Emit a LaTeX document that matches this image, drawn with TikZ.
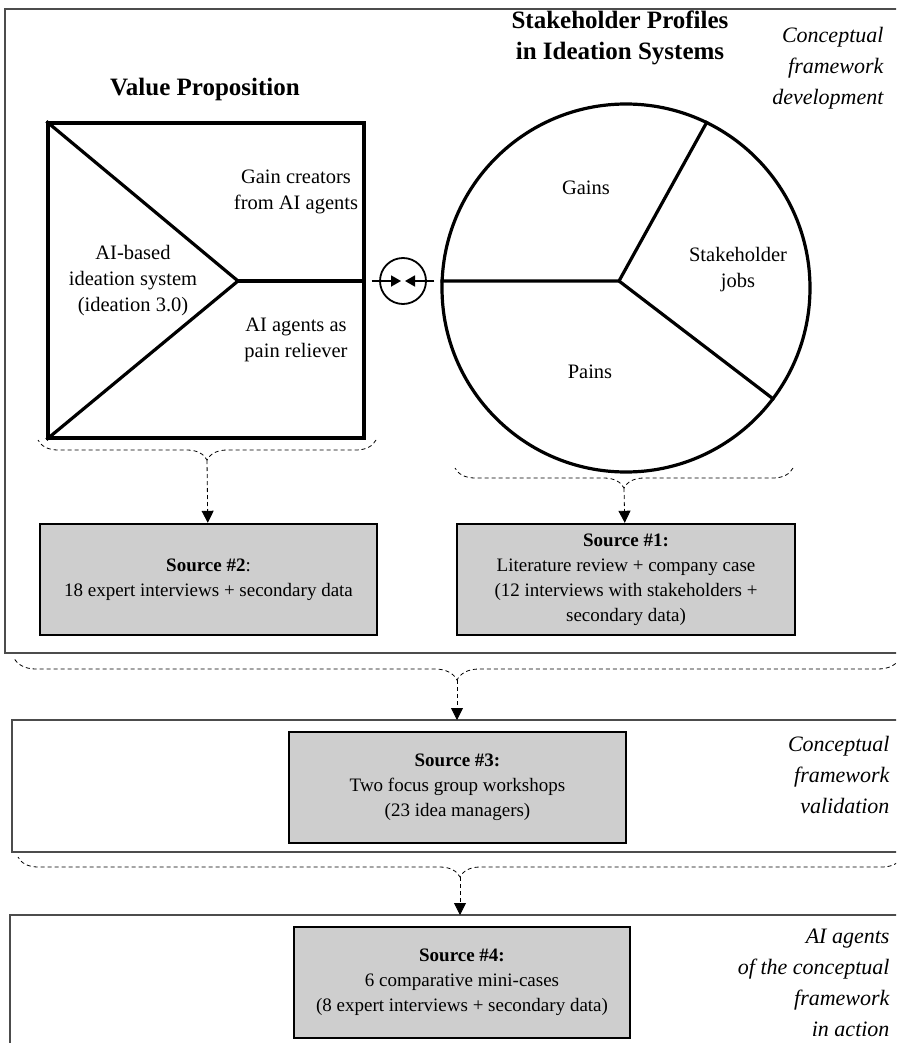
\documentclass[tikz,border=0pt]{standalone}
\usepackage{fontspec}
\setmainfont{Liberation Serif}
\usetikzlibrary{arrows.meta,positioning,calc,decorations.pathreplacing}
\definecolor{srcgray}{RGB}{206,206,206}

\begin{document}
\begin{tikzpicture}[x=1pt, y=-1pt,
    frm/.style={draw=black!70, line width=1.3pt},
    heavy/.style={draw, line width=3.2pt},
    srcbox/.style={draw, line width=2.4pt, fill=srcgray, minimum width=337pt,
                   minimum height=111pt, align=center, inner sep=0pt,
                   font=\fontsize{19}{25}\selectfont},
    lbl/.style={align=center, font=\fontsize{20.5}{26}\selectfont},
    ttl/.style={align=center, font=\bfseries\fontsize{25}{31}\selectfont},
    side/.style={align=right, anchor=east, font=\itshape\fontsize{22}{31}\selectfont},
    dbrace/.style={dash pattern=on 4pt off 3pt, line width=0.8pt, decorate,
                   decoration={brace, amplitude=20pt}},
    darrow/.style={dash pattern=on 4pt off 3pt, line width=0.8pt,
                   -{Triangle[length=12pt, width=12pt]}},
    link/.style={-{Triangle[length=10pt, width=11pt]}, line width=1.8pt},
  ]
  \useasboundingbox (0,0) rectangle (896,1043);
  \clip (0,0) rectangle (896,1043);

  % frames (open to the right)
  \draw[frm] (900,9) -- (5,9) -- (5,653) -- (900,653);
  \draw[frm] (900,720) -- (12,720) -- (12,852) -- (900,852);
  \draw[frm] (900,915) -- (10,915) -- (10,1050);

  % titles and side notes
  \node[ttl] (vptitle) at (205,89) {Value Proposition};
  \node[ttl] (sptitle) at (620,38) {Stakeholder Profiles\\in Ideation Systems};
  \node[side] (dev) at (887,68) {Conceptual\\framework\\development};
  \node[side] (val) at (893,775) {Conceptual\\framework\\validation};
  \node[side] (act) at (893,983) {AI agents\\of the conceptual\\framework\\in action};

  % value proposition square
  \node[heavy, minimum width=316pt, minimum height=315pt, inner sep=0pt] (vp) at (206,280.5) {};
  \coordinate (vtx) at (238,281);
  \draw[heavy] (vp.north west) -- (vtx) -- (vp.south west);
  \draw[heavy] (vtx) -- (vp.east |- vtx);
  \node[lbl] (gain) at (296,192) {Gain creators\\from AI agents};
  \node[lbl] (core) at (133,281) {AI-based\\ideation system\\(ideation 3.0)};
  \node[lbl] (pain) at (296,340) {AI agents as\\pain reliever};

  % stakeholder profile circle
  \node[heavy, circle, minimum size=368pt, inner sep=0pt] (prof) at (626,288) {};
  \coordinate (hub) at (619,281);
  \draw[heavy] (prof.west |- hub) -- (hub) -- (prof.64.4);
  \draw[heavy] (hub) -- (prof.-37.1);
  \node[lbl] (gains) at (586,188) {Gains};
  \node[lbl] (jobs) at (738,270) {Stakeholder\\jobs};
  \node[lbl] (pains) at (590,372) {Pains};

  % fit symbol
  \node[draw, circle, line width=1.8pt, minimum size=46pt, inner sep=0pt] (fit) at (403,281) {};
  \draw[link] ([xshift=6pt]vp.east |- vtx) -- ([xshift=-2pt]fit.center);
  \draw[link] ([xshift=-6pt]prof.west |- hub) -- ([xshift=2pt]fit.center);

  % sources
  \node[srcbox] (src2) at (208.5,579.5) {\textbf{Source \#2}:\\18 expert interviews + secondary data};
  \node[srcbox, minimum width=338pt] (src1) at (626,579.5)
    {\textbf{Source \#1:}\\Literature review + company case\\(12 interviews with stakeholders +\\secondary data)};
  \node[srcbox] (src3) at (457.5,787.5) {\textbf{Source \#3:}\\Two focus group workshops\\(23 idea managers)};
  \node[srcbox, minimum width=336pt] (src4) at (462,982.5)
    {\textbf{Source \#4:}\\6 comparative mini-cases\\(8 expert interviews + secondary data)};

  % dashed braces and arrows
  \draw[dbrace] (376,440) -- (38,440);
  \coordinate (b2) at (207,460);
  \draw[darrow] (b2) -- (src2);
  \draw[dbrace] (793,468) -- (455,468);
  \coordinate (b1) at (624,488);
  \draw[darrow] (b1) -- (src1);
  \draw[dbrace, decoration={amplitude=22pt}] (900,658) -- (14,658);
  \coordinate (bval) at (457,680);
  \coordinate (f2top) at (457,720);
  \draw[darrow] (bval) -- (f2top);
  \draw[dbrace] (902,857) -- (18,857);
  \coordinate (bact) at (460,877);
  \coordinate (f3top) at (460,915);
  \draw[darrow] (bact) -- (f3top);
\end{tikzpicture}
\end{document}
